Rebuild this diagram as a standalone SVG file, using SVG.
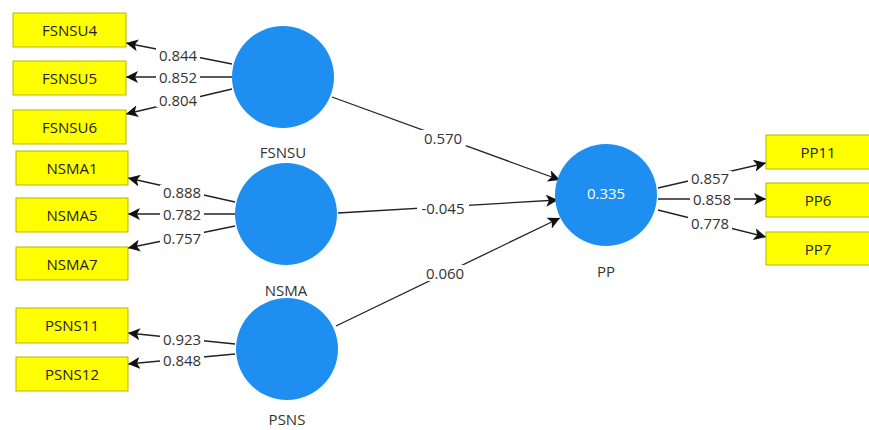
<svg xmlns="http://www.w3.org/2000/svg" width="869" height="430" viewBox="0 0 869 430">
<style>
.box{fill:#ffff00;stroke:#b5b500;stroke-width:1}
.bt{font-family:"Open Sans","Liberation Sans",sans-serif;font-size:15px;fill:#222;text-anchor:middle;dominant-baseline:central}
.circ{fill:#1e8ff0}
.nl{font-family:"Open Sans","Liberation Sans",sans-serif;font-size:15px;fill:#333;text-anchor:middle;dominant-baseline:central}
.ln{stroke:#222;stroke-width:1.3;fill:none;marker-end:url(#ah)}
.bg{fill:#fff}
.el{font-family:"Open Sans","Liberation Sans",sans-serif;font-size:15px;fill:#333;text-anchor:middle;dominant-baseline:central}
</style>
<defs>
<marker id="ah" viewBox="0 0 12 12" refX="12" refY="6" markerWidth="12" markerHeight="12" markerUnits="userSpaceOnUse" orient="auto">
<path d="M0,0 L12,6 L0,12 L3,6 Z" fill="#111"/>
</marker>
</defs>
<rect width="869" height="430" fill="#fff"/>
<g id="connectors">
<line class="ln" x1="232" y1="64" x2="126" y2="43"/>
<line class="ln" x1="232" y1="77" x2="126" y2="77"/>
<line class="ln" x1="232" y1="89" x2="126" y2="114"/>
<line class="ln" x1="235" y1="202" x2="128" y2="178"/>
<line class="ln" x1="235" y1="214" x2="128" y2="214"/>
<line class="ln" x1="235" y1="226" x2="128" y2="248"/>
<line class="ln" x1="235" y1="344" x2="128" y2="333"/>
<line class="ln" x1="235" y1="354" x2="128" y2="364"/>
<line class="ln" x1="658" y1="188" x2="766" y2="163"/>
<line class="ln" x1="658" y1="199" x2="766" y2="199"/>
<line class="ln" x1="658" y1="210" x2="766" y2="237"/>
<line class="ln" x1="332" y1="97" x2="560" y2="180"/>
<line class="ln" x1="338" y1="213" x2="558" y2="200"/>
<line class="ln" x1="336" y1="326" x2="560" y2="218"/>
<rect class="bg" x="156" y="48" width="44" height="14"/><text class="el" x="178" y="55">0.844</text>
<rect class="bg" x="156" y="70" width="44" height="14"/><text class="el" x="178" y="77">0.852</text>
<rect class="bg" x="156" y="93" width="44" height="14"/><text class="el" x="178" y="100">0.804</text>
<rect class="bg" x="160" y="185" width="44" height="14"/><text class="el" x="182" y="192">0.888</text>
<rect class="bg" x="160" y="207" width="44" height="14"/><text class="el" x="182" y="214">0.782</text>
<rect class="bg" x="160" y="231" width="44" height="14"/><text class="el" x="182" y="238">0.757</text>
<rect class="bg" x="160" y="332" width="44" height="14"/><text class="el" x="182" y="339">0.923</text>
<rect class="bg" x="160" y="353" width="44" height="14"/><text class="el" x="182" y="360">0.848</text>
<rect class="bg" x="688" y="171" width="44" height="14"/><text class="el" x="710" y="178">0.857</text>
<rect class="bg" x="690" y="192" width="44" height="14"/><text class="el" x="712" y="199">0.858</text>
<rect class="bg" x="688" y="216" width="44" height="14"/><text class="el" x="710" y="223">0.778</text>
<rect class="bg" x="420" y="130" width="46" height="16"/><text class="el" x="443" y="138">0.570</text>
<rect class="bg" x="417" y="200" width="52" height="16"/><text class="el" x="443" y="208">-0.045</text>
<rect class="bg" x="422" y="265" width="46" height="16"/><text class="el" x="445" y="273">0.060</text>
</g>
<g id="FSNSU4"><rect class="box" x="13" y="13" width="113" height="34"/><text class="bt" x="69.5" y="30">FSNSU4</text></g>
<g id="FSNSU5"><rect class="box" x="13" y="61" width="113" height="34"/><text class="bt" x="69.5" y="78">FSNSU5</text></g>
<g id="FSNSU6"><rect class="box" x="13" y="110" width="113" height="34"/><text class="bt" x="69.5" y="127">FSNSU6</text></g>
<g id="NSMA1"><rect class="box" x="16" y="151" width="112" height="34"/><text class="bt" x="72" y="168">NSMA1</text></g>
<g id="NSMA5"><rect class="box" x="16" y="198" width="112" height="34"/><text class="bt" x="72" y="215">NSMA5</text></g>
<g id="NSMA7"><rect class="box" x="16" y="247" width="112" height="33"/><text class="bt" x="72" y="264">NSMA7</text></g>
<g id="PSNS11"><rect class="box" x="16" y="308" width="112" height="35"/><text class="bt" x="72" y="325">PSNS11</text></g>
<g id="PSNS12"><rect class="box" x="16" y="357" width="112" height="34"/><text class="bt" x="72" y="374">PSNS12</text></g>
<g id="PP11"><rect class="box" x="766" y="135" width="110" height="34"/><text class="bt" x="818" y="152">PP11</text></g>
<g id="PP6"><rect class="box" x="766" y="183" width="110" height="34"/><text class="bt" x="818" y="200">PP6</text></g>
<g id="PP7"><rect class="box" x="766" y="232" width="110" height="33"/><text class="bt" x="818" y="249">PP7</text></g>
<g id="FSNSU"><circle class="circ" cx="283" cy="77" r="51"/><text class="nl" x="283" y="152">FSNSU</text></g>
<g id="NSMA"><circle class="circ" cx="286" cy="214" r="51"/><text class="nl" x="286" y="290">NSMA</text></g>
<g id="PSNS"><circle class="circ" cx="287" cy="349" r="51"/><text class="nl" x="287" y="419">PSNS</text></g>
<g id="PP"><circle class="circ" cx="606" cy="195" r="51"/><text class="nl" x="606" y="193" style="fill:#fff">0.335</text><text class="nl" x="606" y="271">PP</text></g>
</svg>
